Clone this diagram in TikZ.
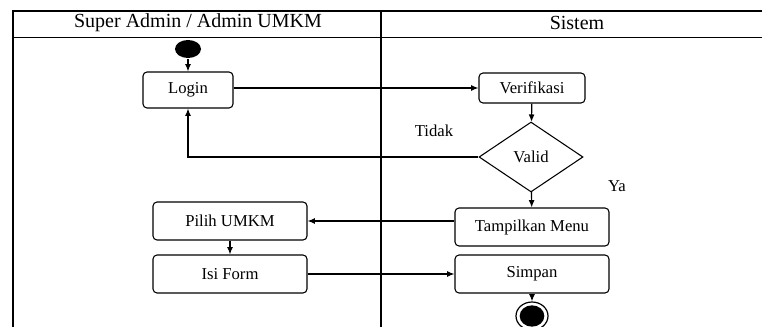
\documentclass[tikz,border=0pt]{standalone}
\usepackage{fontspec}
\setmainfont{Liberation Serif}
\usetikzlibrary{shapes.geometric, arrows.meta}

\begin{document}
\begin{tikzpicture}[x=0.75pt, y=-0.75pt, >={Latex[length=5.5pt, width=4.5pt]},
        lane/.style={line width=1.2pt},
        act/.style={draw, rounded corners=3pt, line width=0.8pt, inner sep=0pt,
            minimum width=115.5pt, minimum height=28.5pt, font=\fontsize{12.5}{14}\selectfont},
        choice/.style={draw, diamond, line width=0.8pt, inner sep=0pt,
            minimum width=78pt, minimum height=52.5pt, font=\fontsize{12.5}{14}\selectfont},
        lbl/.style={font=\fontsize{12.5}{14}\selectfont},
        head/.style={font=\fontsize{15}{17}\selectfont}]
    \useasboundingbox (0, 0) rectangle (762, 327);

    % swimlanes
    \draw [lane] (13, 327) -- (13, 11) -- (762, 11);
    \draw [lane] (13, 37.5) -- (762, 37.5);
    \draw [lane] (381, 11) -- (381, 327);
    \draw
        (198, 23) node [head] (laneA) {Super Admin / Admin UMKM}
        (577, 23) node [head] (laneB) {Sistem};

    \draw [line width=0.9pt]
        (188, 49) node [ellipse, fill=black, minimum width=19.5pt, minimum height=13.5pt, inner sep=0pt] (S) {}
        (188, 90) node [act, minimum width=67.5pt, minimum height=27pt] (L) {Login}
        (532, 88) node [act, minimum width=79.5pt, minimum height=22.5pt] (V) {Verifikasi}
        (531, 157) node [choice] (D) {Valid}
        (532, 227) node [act] (T) {Tampilkan Menu}
        (230, 221) node [act] (P) {Pilih UMKM}
        (230, 274) node [act] (F) {Isi Form}
        (532, 274) node [act] (M) {Simpan}
        (532, 316) node [ellipse, draw, minimum width=24pt, minimum height=21pt, inner sep=0pt] (E) {}
        (532, 316) node [ellipse, fill=black, minimum width=18.5pt, minimum height=16pt, inner sep=0pt] (Edot) {}
        (434, 131) node [lbl] (no) {Tidak}
        (617, 186) node [lbl] (yes) {Ya}

        (S) edge [->] (L)
        (L.east |- V.west) edge [->] (V.west)
        (V) edge [->] (D)
        (D.west) edge [->, to path={-| (\tikztotarget)}] (L.south)
        (D) edge [->] (T)
        (T.west |- P.east) edge [->] (P.east)
        (P) edge [->] (F)
        (F) edge [->] (M)
        (M) edge [->] (E)
        ;
\end{tikzpicture}
\end{document}
